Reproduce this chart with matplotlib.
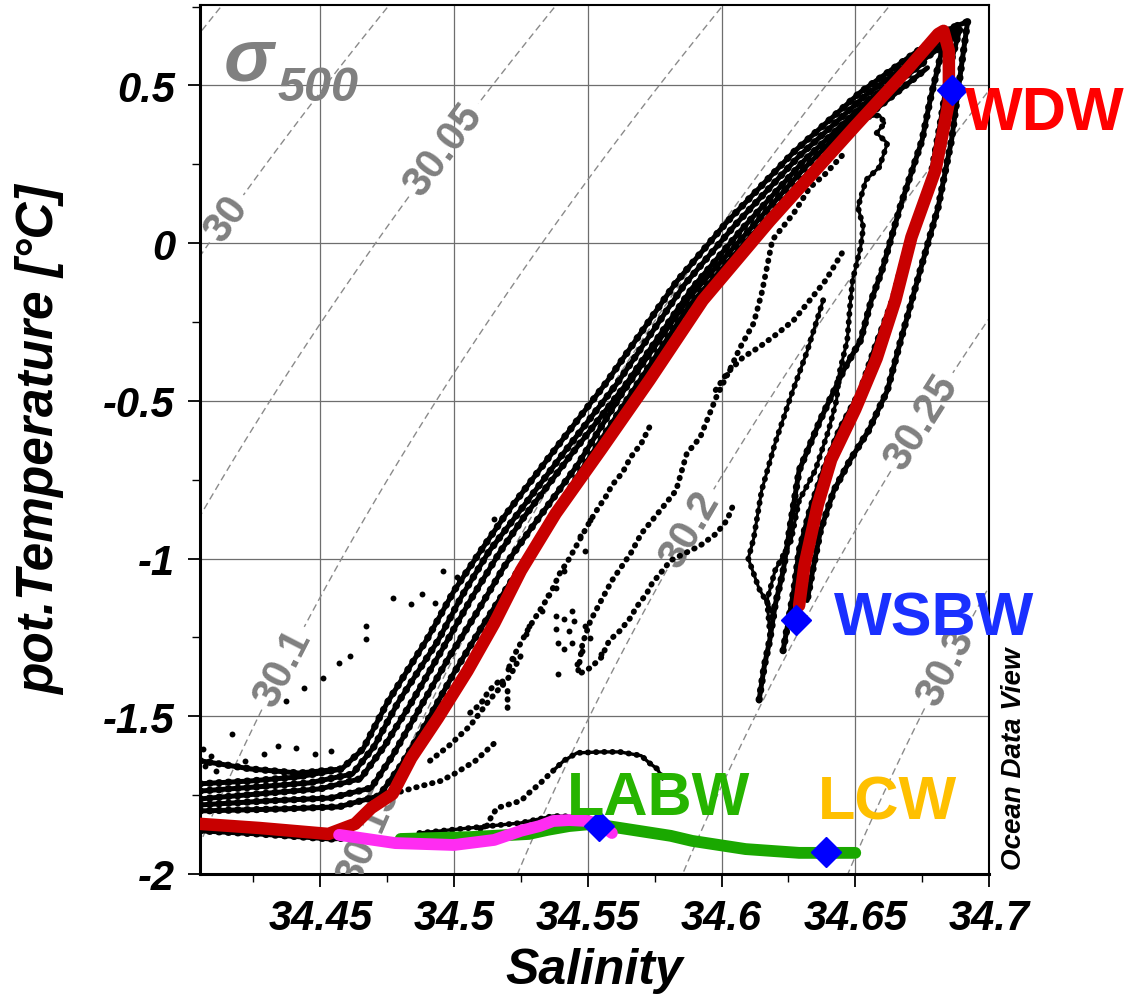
import numpy as np
import matplotlib
matplotlib.use("Agg")
import matplotlib.pyplot as plt
from matplotlib.ticker import MultipleLocator, FuncFormatter

plt.rcParams["font.family"] = ["Liberation Sans", "DejaVu Sans"]
plt.rcParams["font.weight"] = "bold"
plt.rcParams["axes.unicode_minus"] = False
plt.rcParams["lines.dashed_pattern"] = [5.0, 3.0]

# ---------------- data (salinity, pot. temperature) ----------------
red_sal = [34.405, 34.427, 34.453, 34.463, 34.469, 34.477, 34.484, 34.494, 34.505, 34.515,
           34.525, 34.538, 34.555, 34.573, 34.593, 34.618, 34.650, 34.669, 34.681, 34.683,
           34.685, 34.685, 34.680, 34.671, 34.665, 34.658, 34.650, 34.641, 34.636, 34.631, 34.629]
red_temp = [-1.841, -1.854, -1.873, -1.841, -1.791, -1.746, -1.632, -1.505, -1.356, -1.206,
            -1.038, -0.857, -0.654, -0.435, -0.181, 0.070, 0.371, 0.546, 0.663, 0.673,
            0.610, 0.448, 0.232, 0.019, -0.181, -0.365, -0.527, -0.686, -0.829, -1.022, -1.149]

magenta_sal = [34.457, 34.478, 34.500, 34.515, 34.525, 34.532, 34.537, 34.543, 34.550, 34.555, 34.559]
magenta_temp = [-1.876, -1.902, -1.908, -1.892, -1.863, -1.848, -1.832, -1.829, -1.832, -1.844, -1.870]

green_sal = [34.480, 34.506, 34.528, 34.535, 34.543, 34.552, 34.562, 34.581, 34.589, 34.609, 34.629, 34.650]
green_temp = [-1.889, -1.883, -1.873, -1.860, -1.848, -1.841, -1.854, -1.879, -1.895, -1.921, -1.933, -1.933]

# water mass end members
wm_names = ["WDW", "WSBW", "LABW", "LCW"]
wm_sal = [34.686, 34.628, 34.554, 34.639]
wm_temp = [0.486, -1.195, -1.848, -1.930]
wm_colors = ["#ff0000", "#1a30ff", "#26b400", "#ffc000"]
wm_label_sal = [34.691, 34.642, 34.542, 34.636]
wm_label_temp = [0.362, -1.241, -1.810, -1.825]

# CTD profiles (black dots): dense strands, upper-left branch
band0_sal = [34.405, 34.424, 34.442, 34.458]
band0_temp = [-1.641, -1.667, -1.680, -1.667]
band1_sal = [34.405, 34.424, 34.442, 34.458, 34.466, 34.475, 34.490, 34.500, 34.510, 34.519,
             34.536, 34.557, 34.583, 34.602, 34.627, 34.652, 34.677, 34.687, 34.692]
band1_temp = [-1.714, -1.705, -1.692, -1.667, -1.603, -1.457, -1.254, -1.102, -0.975, -0.864,
              -0.673, -0.441, -0.124, 0.067, 0.289, 0.479, 0.632, 0.686, 0.702]
band1b_sal = [34.405, 34.426, 34.446, 34.462, 34.470, 34.479, 34.494, 34.503, 34.513, 34.523,
              34.540, 34.561, 34.586, 34.605, 34.629, 34.654, 34.678, 34.688]
band1b_temp = [-1.737, -1.724, -1.711, -1.683, -1.597, -1.457, -1.260, -1.117, -0.978, -0.867,
               -0.676, -0.444, -0.133, 0.057, 0.276, 0.470, 0.619, 0.676]
band2_sal = [34.405, 34.427, 34.450, 34.465, 34.474, 34.484, 34.497, 34.506, 34.517, 34.526,
             34.543, 34.564, 34.589, 34.608, 34.631, 34.655, 34.678, 34.688]
band2_temp = [-1.762, -1.746, -1.730, -1.698, -1.594, -1.457, -1.267, -1.133, -0.981, -0.870,
              -0.679, -0.451, -0.143, 0.048, 0.263, 0.454, 0.597, 0.660]
band2b_sal = [34.405, 34.431, 34.454, 34.469, 34.477, 34.486, 34.498, 34.508, 34.519, 34.529,
              34.546, 34.563, 34.588, 34.608, 34.631, 34.654, 34.676]
band2b_temp = [-1.781, -1.768, -1.759, -1.727, -1.625, -1.492, -1.314, -1.178, -1.022, -0.902,
               -0.705, -0.473, -0.171, 0.019, 0.238, 0.432, 0.575]
band3_sal = [34.405, 34.435, 34.457, 34.472, 34.480, 34.489, 34.500, 34.510, 34.522, 34.532,
             34.547, 34.565, 34.588, 34.608, 34.631, 34.655, 34.677]
band3_temp = [-1.800, -1.794, -1.787, -1.752, -1.657, -1.530, -1.362, -1.222, -1.063, -0.937,
              -0.727, -0.492, -0.197, -0.006, 0.210, 0.406, 0.556]
bottom_sal = [34.405, 34.427, 34.454, 34.465]
bottom_temp = [-1.863, -1.873, -1.889, -1.883]

# dense strands, right branch
right_l_sal = [34.687, 34.682, 34.678, 34.675, 34.667, 34.660, 34.656, 34.652, 34.646, 34.637,
               34.629, 34.626, 34.623, 34.620, 34.618, 34.616, 34.614]
right_l_temp = [0.686, 0.597, 0.454, 0.327, 0.121, -0.086, -0.181, -0.308, -0.397, -0.559,
                -0.721, -0.879, -1.041, -1.149, -1.260, -1.340, -1.451]
right_m_sal = [34.689, 34.685, 34.682, 34.678, 34.670, 34.664, 34.657, 34.652, 34.644, 34.638,
               34.633, 34.629, 34.627, 34.625, 34.623]
right_m_temp = [0.676, 0.549, 0.390, 0.200, 0.010, -0.181, -0.340, -0.467, -0.594, -0.721,
                -0.848, -0.975, -1.102, -1.197, -1.292]
right_r_sal = [34.692, 34.690, 34.688, 34.686, 34.681, 34.674, 34.667, 34.662, 34.655, 34.648,
               34.642, 34.637, 34.634, 34.632]
right_r_temp = [0.702, 0.581, 0.454, 0.327, 0.114, -0.095, -0.308, -0.467, -0.594, -0.689,
                -0.784, -0.911, -1.041, -1.133]

# CTD profiles: sparse (dotted) traces
loop_sal = [34.649, 34.659, 34.661, 34.658, 34.662, 34.659, 34.654, 34.651, 34.653, 34.652,
            34.649, 34.648, 34.647, 34.644, 34.643, 34.640, 34.635, 34.629, 34.626, 34.620,
            34.617, 34.618]
loop_temp = [0.390, 0.406, 0.381, 0.349, 0.317, 0.241, 0.200, 0.114, 0.051, -0.013,
             -0.117, -0.203, -0.308, -0.413, -0.498, -0.594, -0.721, -0.816, -0.943, -1.038,
             -1.133, -1.229]
inner1_sal = [34.638, 34.632, 34.626, 34.620, 34.615, 34.612, 34.610, 34.614, 34.620]
inner1_temp = [-0.181, -0.343, -0.483, -0.635, -0.784, -0.937, -1.000, -1.095, -1.184]
inner2_sal = [34.645, 34.639, 34.633, 34.627, 34.619, 34.617, 34.615, 34.612, 34.607, 34.603,
              34.598, 34.592, 34.587, 34.583, 34.577, 34.570, 34.566, 34.559, 34.555, 34.551,
              34.548, 34.546]
inner2_temp = [0.277, 0.221, 0.176, 0.095, 0.010, -0.076, -0.159, -0.254, -0.330, -0.403,
               -0.489, -0.616, -0.667, -0.784, -0.848, -0.921, -0.984, -1.070, -1.133, -1.197,
               -1.270, -1.378]
inner3_sal = [34.645, 34.639, 34.633, 34.627, 34.621, 34.614, 34.608, 34.602, 34.597]
inner3_temp = [-0.032, -0.117, -0.181, -0.244, -0.286, -0.330, -0.362, -0.413, -0.476]
inner4_sal = [34.604, 34.602, 34.598, 34.592, 34.581, 34.577, 34.574, 34.572, 34.568, 34.566,
              34.562, 34.558, 34.555, 34.551, 34.547]
inner4_temp = [-0.838, -0.879, -0.921, -0.959, -1.006, -1.048, -1.079, -1.111, -1.156, -1.187,
               -1.229, -1.260, -1.314, -1.346, -1.365]
inner5_sal = [34.573, 34.570, 34.566, 34.563, 34.559, 34.557, 34.554, 34.551, 34.542, 34.540,
              34.536, 34.532, 34.528, 34.522, 34.520]
inner5_temp = [-0.584, -0.635, -0.679, -0.727, -0.768, -0.800, -0.838, -0.879, -1.016, -1.038,
               -1.111, -1.165, -1.219, -1.314, -1.356]
curve_sal = [34.477, 34.485, 34.495, 34.500, 34.508, 34.516]
curve_temp = [-1.746, -1.727, -1.705, -1.683, -1.641, -1.578]
curve2_sal = [34.491, 34.498, 34.506, 34.513, 34.521, 34.526]
curve2_temp = [-1.641, -1.594, -1.530, -1.451, -1.371, -1.292]
spike_sal = [34.506, 34.510, 34.513, 34.517, 34.520, 34.520]
spike_temp = [-1.489, -1.460, -1.419, -1.387, -1.419, -1.476]
bump_sal = [34.537, 34.541, 34.546, 34.555, 34.562, 34.570, 34.573, 34.576, 34.578]
bump_temp = [-1.673, -1.641, -1.616, -1.613, -1.613, -1.625, -1.648, -1.667, -1.698]
bumpdots_sal = [34.535, 34.532, 34.528, 34.525, 34.521, 34.516, 34.513, 34.512, 34.509]
bumpdots_temp = [-1.689, -1.714, -1.743, -1.768, -1.778, -1.791, -1.832, -1.854, -1.857]
base_sal = [34.487, 34.506, 34.525, 34.537, 34.550]
base_temp = [-1.870, -1.854, -1.838, -1.816, -1.819]

# scattered single samples
dots_sal = [34.417, 34.422, 34.429, 34.434, 34.437, 34.441, 34.444, 34.448, 34.451, 34.454,
            34.457, 34.461, 34.467, 34.467, 34.477, 34.484, 34.488, 34.493, 34.496, 34.501,
            34.515, 34.406, 34.409, 34.407, 34.411,
            34.547, 34.551, 34.549, 34.541, 34.538, 34.535, 34.533, 34.538, 34.541, 34.544,
            34.545, 34.543, 34.538, 34.539, 34.544, 34.549, 34.551, 34.548, 34.541, 34.527,
            34.528, 34.522, 34.520, 34.518, 34.546, 34.555, 34.539]
dots_temp = [-1.556, -1.641, -1.619, -1.594, -1.451, -1.600, -1.410, -1.619, -1.378, -1.610,
             -1.330, -1.308, -1.213, -1.254, -1.124, -1.143, -1.111, -1.140, -1.038, -1.060,
             -0.873, -1.603, -1.625, -1.657, -1.673,
             -0.929, -0.879, -0.975, -1.038, -1.092, -1.117, -1.165, -1.181, -1.190, -1.165,
             -1.197, -1.229, -1.222, -1.267, -1.267, -1.213, -1.251, -1.292, -1.286, -1.238,
             -1.213, -1.317, -1.349, -1.387, -1.333, -1.302, -1.365]

# isopycnals of sigma_500
plain_levels = [29.95]
label_levels = [30.0, 30.05, 30.1, 30.15, 30.2, 30.25, 30.3]
label_pos = [(34.413, 0.089), (34.497, 0.289), (34.432, -1.330), (34.467, -1.873),
             (34.589, -0.911), (34.674, -0.562), (34.685, -1.349)]

x_ticks = [34.45, 34.5, 34.55, 34.6, 34.65, 34.7]
y_ticks = [-2, -1.5, -1, -0.5, 0, 0.5]


def sigma500(S, T):
    # UNESCO EOS-80 density at 500 dbar minus 1000
    p = 50.0
    s15 = S ** 1.5
    rw = (999.842594 + 6.793952e-2 * T - 9.095290e-3 * T**2 + 1.001685e-4 * T**3
          - 1.120083e-6 * T**4 + 6.536332e-9 * T**5)
    r0 = (rw + S * (0.824493 - 4.0899e-3 * T + 7.6438e-5 * T**2 - 8.2467e-7 * T**3 + 5.3875e-9 * T**4)
          + s15 * (-5.72466e-3 + 1.0227e-4 * T - 1.6546e-6 * T**2) + 4.8314e-4 * S**2)
    kw = 19652.21 + 148.4206 * T - 2.327105 * T**2 + 1.360477e-2 * T**3 - 5.155288e-5 * T**4
    k0 = (kw + S * (54.6746 - 0.603459 * T + 1.09987e-2 * T**2 - 6.1670e-5 * T**3)
          + s15 * (7.944e-2 + 1.6483e-2 * T - 5.3009e-4 * T**2))
    a = (3.239908 + 1.43713e-3 * T + 1.16092e-4 * T**2 - 5.77905e-7 * T**3
         + S * (2.2838e-3 - 1.0981e-5 * T - 1.6078e-6 * T**2) + 1.91075e-4 * s15)
    b = (8.50935e-5 - 6.12293e-6 * T + 5.2787e-8 * T**2
         + S * (-9.9348e-7 + 2.0816e-8 * T + 9.1697e-10 * T**2))
    k = k0 + a * p + b * p**2
    return r0 / (1 - p / k) - 1000.0


fig = plt.figure(figsize=(11.32, 10.04), dpi=100)
ax = fig.add_axes([200 / 1132, 1 - 875 / 1004, 789 / 1132, 869 / 1004])
ax.set_xlim(34.405, 34.70)
ax.set_ylim(-2.0, 0.755)

# isopycnals
sg, tg = np.meshgrid(np.linspace(34.39, 34.72, 300), np.linspace(-2.2, 0.9, 300))
sig = sigma500(sg, tg)
ax.contour(sg, tg, sig, levels=plain_levels, colors="#8a8a8a",
           linewidths=1.0, linestyles="--", zorder=1)
cs = ax.contour(sg, tg, sig, levels=label_levels, colors="#8a8a8a",
                linewidths=1.0, linestyles="--", zorder=1)
lbls = ax.clabel(cs, manual=label_pos, fontsize=30, colors="#808080",
                 fmt=lambda v: f"{v:g}", inline=True, inline_spacing=6)

# black CTD strands
dense = [(band0_sal, band0_temp), (band1_sal, band1_temp), (band1b_sal, band1b_temp),
         (band2_sal, band2_temp), (band2b_sal, band2b_temp), (band3_sal, band3_temp),
         (bottom_sal, bottom_temp), (right_l_sal, right_l_temp), (right_m_sal, right_m_temp),
         (right_r_sal, right_r_temp)]
for s, t in dense:
    ax.plot(s, t, color="k", lw=3.6, solid_capstyle="round", zorder=3)
    ax.plot(s, t, color="k", lw=5.2, ls=(0, (0.1, 1.2)), dash_capstyle="round", zorder=3)

sparse = [(loop_sal, loop_temp), (inner1_sal, inner1_temp), (inner2_sal, inner2_temp),
          (inner3_sal, inner3_temp), (inner4_sal, inner4_temp), (inner5_sal, inner5_temp),
          (curve_sal, curve_temp), (curve2_sal, curve2_temp), (spike_sal, spike_temp),
          (bump_sal, bump_temp), (bumpdots_sal, bumpdots_temp), (base_sal, base_temp)]
for s, t in sparse:
    ax.plot(s, t, color="k", lw=4.2, ls=(0, (0.1, 1.3)), dash_capstyle="round", zorder=3)
ax.plot(loop_sal, loop_temp, color="k", lw=2.2, zorder=3)
ax.plot(inner1_sal, inner1_temp, color="k", lw=2.2, zorder=3)
ax.plot(bump_sal, bump_temp, color="k", lw=2.4, zorder=3)
ax.plot(base_sal, base_temp, color="k", lw=2.4, zorder=3)
ax.scatter(dots_sal, dots_temp, s=18, color="k", lw=0, zorder=3)

# mean profiles
ax.plot(red_sal, red_temp, color="#c80000", lw=9, solid_capstyle="round",
        solid_joinstyle="round", zorder=4)
ax.plot(green_sal, green_temp, color="#1aa800", lw=8.5, solid_capstyle="round", zorder=5)
ax.plot(magenta_sal, magenta_temp, color="#ff2cf2", lw=8.5, solid_capstyle="round", zorder=6)

# end members
ax.plot(wm_sal, wm_temp, ls="none", marker="D", ms=15, color="#0000ff", mec="#0000ff", zorder=7)
for name, s, t, c in zip(wm_names, wm_label_sal, wm_label_temp, wm_colors):
    ax.text(s, t, name, color=c, fontsize=44, fontweight="bold", ha="left", va="baseline",
            zorder=8, clip_on=False)

# sigma label
ax.text(34.414, 0.52, "σ", color="#808080", fontsize=54, fontweight="bold",
        fontstyle="italic", ha="left", va="baseline")
ax.text(34.434, 0.455, "500", color="#808080", fontsize=35, fontweight="bold",
        fontstyle="italic", ha="left", va="baseline")

# axes styling
ax.xaxis.set_minor_locator(MultipleLocator(0.025))
ax.set_xticks(x_ticks)
ax.yaxis.set_minor_locator(MultipleLocator(0.25))
ax.set_yticks(y_ticks)
fmt = FuncFormatter(lambda v, p: f"{v:g}")
ax.xaxis.set_major_formatter(fmt)
ax.yaxis.set_major_formatter(fmt)
ax.grid(True, which="major", color="#6e6e6e", lw=0.9, zorder=0)
ax.set_axisbelow(True)
ax.tick_params(which="major", length=9, width=1.3, direction="out", labelsize=30)
ax.tick_params(which="minor", length=5.5, width=1.0, direction="out")
ax.tick_params(axis="x", which="major", pad=8)
ax.tick_params(axis="y", which="major", pad=9)
for lab in ax.get_xticklabels() + ax.get_yticklabels():
    lab.set_fontstyle("italic")
    lab.set_fontweight("bold")
for side in ["left", "bottom"]:
    ax.spines[side].set_linewidth(2.2)
for side in ["top", "right"]:
    ax.spines[side].set_linewidth(1.5)

ax.set_xlabel("Salinity", fontsize=36, fontweight="bold", fontstyle="italic", va="top")
ax.set_ylabel("pot.Temperature [°C]", fontsize=37, fontweight="bold", fontstyle="italic")
ax.xaxis.set_label_coords(0.5, -0.084)
ax.yaxis.set_label_coords(-0.171, 0.5)

fig.text(1014 / 1132, 1 - 759 / 1004, "Ocean Data View", rotation=90, fontsize=20,
         fontweight="bold", fontstyle="italic", ha="center", va="center")

fig.savefig("out.png", dpi=100)
